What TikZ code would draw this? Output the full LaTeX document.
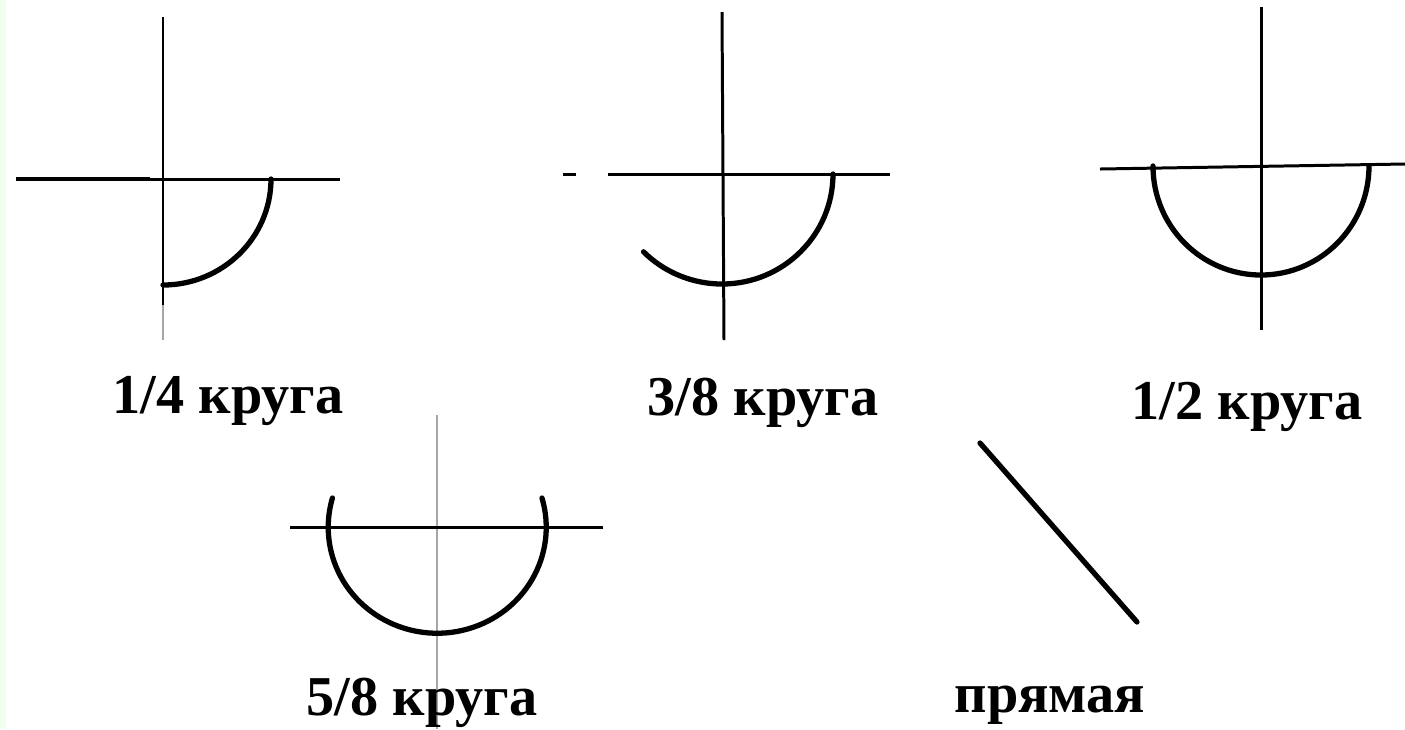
\documentclass[tikz,border=0pt]{standalone}
\usepackage{fontspec}
\setmainfont{Liberation Serif}
\begin{document}
\begin{tikzpicture}[x=0.01cm,y=-0.01cm,
  axis/.style={line width=0.85pt,black},
  faint/.style={line width=0.5pt,black!35},
  arcline/.style={line width=1.5pt,black,line cap=round},
  lbl/.style={font=\fontsize{16}{19}\selectfont\bfseries,anchor=base,inner sep=0pt}]
\useasboundingbox (0,0) rectangle (1405,729);
\fill[green!6!white] (0,0) rectangle (6,729);
% figure 1: 1/4
\coordinate (c1) at (163,179);
\draw[axis] (163,17) -- (163,305);
\draw[faint] (163,305) -- (163,340);
\draw[axis] (16,179) -- (340,179);
\draw[line width=1.3pt] (16,179) -- (150,179);
\draw[arcline] ([shift={(108,0)}]c1) arc[start angle=0,end angle=-90,x radius=108,y radius=-106];
\node[lbl] (l1) at (228,413) {1/4 круга};
% figure 2: 3/8
\coordinate (c2) at (722,174);
\draw[axis] (722,12) -- (724,340);
\draw[axis] (608,174) -- (890,174);
\draw[axis] (563,174) -- (576,174);
\draw[arcline] ([shift={(111,0)}]c2) arc[start angle=0,end angle=-135,x radius=111,y radius=-110];
\node[lbl] (l2) at (763,415) {3/8 круга};
% figure 3: 1/2
\coordinate (c3) at (1261,166);
\draw[axis] (1261,7) -- (1261,330);
\draw[axis] (1100,169) -- (1405,164);
\draw[arcline] ([shift={(108,0)}]c3) arc[start angle=0,end angle=-180,x radius=108,y radius=-109];
\node[lbl] (l3) at (1247,419) {1/2 круга};
% figure 4: 5/8
\coordinate (c4) at (437,527);
\draw[faint] (437,415) -- (437,729);
\draw[axis] (290,527) -- (603,527);
\draw[arcline] ([shift={(105,-29)}]c4) arc[start angle=16,end angle=-196,x radius=109,y radius=-106];
\node[lbl] (l4) at (422,715) {5/8 круга};
% straight line
\coordinate (s1) at (980,443);
\coordinate (s2) at (1137,622);
\draw[arcline] (s1) -- (s2);
\node[lbl] (l5) at (1050,712) {прямая};
\end{tikzpicture}
\end{document}
